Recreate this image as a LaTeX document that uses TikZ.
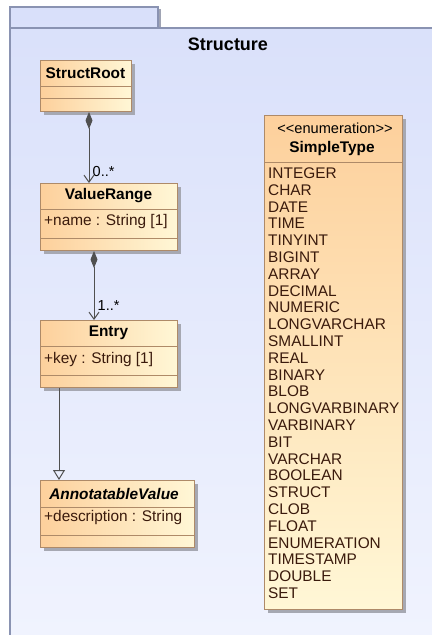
\documentclass[tikz,border=0pt]{standalone}
\usepackage{fontspec}
\setmainfont{Liberation Sans}
\usetikzlibrary{arrows.meta,shadows}

\definecolor{frameline}{HTML}{8A93B2}
\definecolor{framefillA}{HTML}{D9E0FA}
\definecolor{framefillB}{HTML}{F0F3FE}
\definecolor{tabshadow}{HTML}{A0A4B4}
\definecolor{classA}{HTML}{FDD09C}
\definecolor{classB}{HTML}{FFF7D6}
\definecolor{classline}{HTML}{AE8A68}
\definecolor{attrtext}{HTML}{3A1A0C}
\definecolor{wire}{HTML}{505050}
\definecolor{shadowgray}{HTML}{A6A8B2}

\begin{document}
\begin{tikzpicture}[x=1pt,y=-1pt,
  font=\fontsize{15.4}{16.8}\selectfont,
  classbox/.style={draw=classline, line width=1pt, anchor=north west,
    inner sep=0pt, left color=classA, right color=classB,
    drop shadow={shadow xshift=3.5pt, shadow yshift=-3.5pt,
      fill=shadowgray, opacity=1}},
  tallbox/.style={classbox, top color=classA, bottom color=classB},
  sep/.style={draw=classline, line width=1pt},
  classname/.style={inner sep=0pt, font=\fontsize{15.4}{16.8}\selectfont\bfseries},
  attr/.style={inner sep=0pt, anchor=west, text=attrtext},
  literal/.style={inner sep=0pt, anchor=base west, text=attrtext},
  mult/.style={inner sep=0pt, anchor=west, font=\fontsize{14.5}{16}\selectfont},
  comp/.style={draw=wire, line width=1pt,
    arrows={Diamond[width=7pt,length=17pt]-Straight Barb[length=7pt,width=10pt]}},
  gen/.style={draw=wire, line width=1pt,
    arrows={-Triangle[open,width=12pt,length=10pt]}}
]
\useasboundingbox (0,0) rectangle (432,635);

% package frame with its tab
\fill[tabshadow] (158,9) rectangle (161,28);
\shade[top color=framefillA, bottom color=framefillB]
  (10,7) -- (158,7) -- (158,28) -- (432,28) -- (432,635) -- (10,635) -- cycle;
\draw[frameline, line width=1.5pt]
  (10,635) -- (10,7) -- (158,7) -- (158,28);
\draw[frameline, line width=1.5pt] (10,28) -- (432,28);
\node[inner sep=0pt, font=\fontsize{18}{20}\selectfont\bfseries] (title) at (228,44) {Structure};

% StructRoot
\node[classbox, minimum width=91pt, minimum height=51pt] (root) at (40,60) {};
\draw[sep] (40,86) -- (131,86);
\draw[sep] (40,98) -- (131,98);
\node[classname] (rootname) at (85.5,73) {StructRoot};

% ValueRange
\node[classbox, minimum width=137pt, minimum height=67pt] (vr) at (40,183) {};
\draw[sep] (40,209) -- (177,209);
\draw[sep] (40,238) -- (177,238);
\node[classname] (vrname) at (108.5,196) {ValueRange};
\node[attr] (vrattr) at (44,222) {+name : String [1]};

% Entry
\node[classbox, minimum width=137pt, minimum height=67pt] (entry) at (40,320) {};
\draw[sep] (40,346) -- (177,346);
\draw[sep] (40,375) -- (177,375);
\node[classname] (entryname) at (108.5,333) {Entry};
\node[attr] (entryattr) at (44,360) {+key : String [1]};

% AnnotatableValue
\node[classbox, minimum width=154pt, minimum height=67pt] (av) at (40,480) {};
\draw[sep] (40,507) -- (194,507);
\draw[sep] (40,535) -- (194,535);
\node[classname, font=\fontsize{15.4}{16.8}\selectfont\bfseries\itshape] (avname) at (114,494) {AnnotatableValue};
\node[attr] (avattr) at (44,518) {+description : String};

% SimpleType enumeration
\node[tallbox, minimum width=138pt, minimum height=494pt] (st) at (264,115) {};
\draw[sep] (264,162) -- (402,162);
\node[inner sep=0pt, font=\fontsize{14.6}{16}\selectfont] (ststereo) at (335,128) {<{}<enumeration>{}>};
\node[classname] (stname) at (332,149) {SimpleType};
\foreach \lit [count=\i from 0] in {INTEGER,CHAR,DATE,TIME,TINYINT,BIGINT,ARRAY,
    DECIMAL,NUMERIC,LONGVARCHAR,SMALLINT,REAL,BINARY,BLOB,LONGVARBINARY,
    VARBINARY,BIT,VARCHAR,BOOLEAN,STRUCT,CLOB,FLOAT,ENUMERATION,TIMESTAMP,
    DOUBLE,SET}
  \node[literal] (lit\i) at (268,{178.5+16.8*\i}) {\lit};

% associations and generalization
\draw[comp] ([xshift=49pt]root.south west) -- ([xshift=49pt]vr.north west);
\node[mult] (m1) at (92.5,172) {0..*};
\draw[comp] ([xshift=54pt]vr.south west) -- ([xshift=54pt]entry.north west);
\node[mult] (m2) at (97.5,306) {1..*};
\draw[gen] ([xshift=19pt]entry.south west) -- ([xshift=19pt]av.north west);
\end{tikzpicture}
\end{document}
